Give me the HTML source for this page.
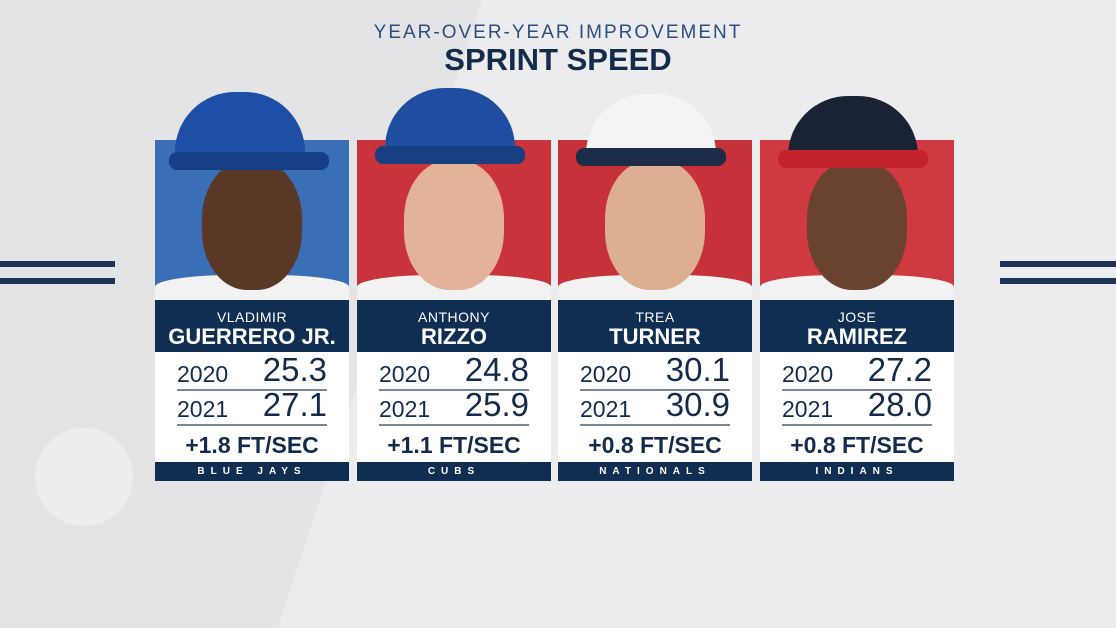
<!DOCTYPE html>
<html><head><meta charset="utf-8"><style>
*{margin:0;padding:0;box-sizing:border-box}
html,body{width:1116px;height:628px;overflow:hidden}
body{background:#e4e4e6;font-family:"Liberation Sans",sans-serif;position:relative}
.bg1{position:absolute;left:380px;top:0;width:900px;height:628px;background:#ececee;transform:skewX(-18deg)}
.circ{position:absolute;left:35px;top:428px;width:98px;height:98px;border-radius:50%;background:#ededef}
.ln{position:absolute;height:6px;background:#1b3356}
.t1{position:absolute;top:22px;left:0;width:1116px;text-align:center;color:#2a4f7e;font-size:19px;letter-spacing:2px}
.t2{position:absolute;top:42px;left:0;width:1116px;text-align:center;color:#142c4c;font-size:31px;font-weight:bold}
.card{position:absolute;top:140px;width:194px;height:341px}
.photo{position:absolute;top:0;left:0;width:194px;height:160px;overflow:hidden}
.name{position:absolute;top:160px;left:0;width:194px;height:52px;background:#0f2e51;color:#fff;text-align:center}
.fn{font-size:14px;padding-top:9px;letter-spacing:.5px}
.ln2{font-size:22px;font-weight:bold;line-height:24px}
.stats{position:absolute;top:212px;left:0;width:194px;height:110px;background:#fff;color:#142c4c}
.row{position:absolute;left:22px;width:150px;height:35px;border-bottom:2px solid #7a8796}
.yr{position:absolute;left:0;bottom:1px;font-size:23px}
.val{position:absolute;right:0;bottom:0;font-size:33px}
.imp{position:absolute;top:80px;width:194px;text-align:center;font-size:23px;font-weight:bold}
.team{position:absolute;top:322px;left:0;width:194px;height:19px;background:#0f2e51;color:#fff;text-align:center;font-size:10px;font-weight:bold;letter-spacing:6px;line-height:19px}
.head{position:absolute;left:47px;top:20px;width:100px;height:130px;border-radius:45%}
.shirt{position:absolute;left:0;top:135px;width:194px;height:30px;background:#f2f2f2;border-radius:40% 40% 0 0}
.cap{position:absolute;left:28px;width:130px;height:68px;border-radius:60px 60px 8px 8px}
.bill{position:absolute;left:18px;width:150px;height:18px;border-radius:8px}
</style></head><body>
<div class="bg1"></div><div class="circ"></div>
<div class="ln" style="left:0;top:261px;width:115px"></div>
<div class="ln" style="left:0;top:278px;width:115px"></div>
<div class="ln" style="left:1000px;top:261px;width:116px"></div>
<div class="ln" style="left:1000px;top:278px;width:116px"></div>
<div class="t1">YEAR-OVER-YEAR IMPROVEMENT</div>
<div class="t2">SPRINT SPEED</div>

<div class="card" style="left:155px">
 <div class="photo" style="background:#3b6fb5"><div class="shirt"></div><div class="head" style="background:#5a3826"></div></div>
 <div class="cap" style="top:-48px;left:20px;background:#1d4fa6"></div><div class="bill" style="top:12px;left:14px;width:160px;background:#183f86"></div>
 <div class="name"><div class="fn">VLADIMIR</div><div class="ln2">GUERRERO JR.</div></div>
 <div class="stats"><div class="row" style="top:4px"><span class="yr">2020</span><span class="val">25.3</span></div><div class="row" style="top:39px"><span class="yr">2021</span><span class="val">27.1</span></div><div class="imp">+1.8 FT/SEC</div></div>
 <div class="team">BLUE JAYS</div>
</div>

<div class="card" style="left:357px">
 <div class="photo" style="background:#c9343c"><div class="shirt"></div><div class="head" style="background:#e2b398"></div></div>
 <div class="cap" style="top:-52px;background:#1f4ea0"></div><div class="bill" style="top:6px;background:#173f82"></div>
 <div class="name"><div class="fn">ANTHONY</div><div class="ln2">RIZZO</div></div>
 <div class="stats"><div class="row" style="top:4px"><span class="yr">2020</span><span class="val">24.8</span></div><div class="row" style="top:39px"><span class="yr">2021</span><span class="val">25.9</span></div><div class="imp">+1.1 FT/SEC</div></div>
 <div class="team">CUBS</div>
</div>

<div class="card" style="left:558px">
 <div class="photo" style="background:#c6323a"><div class="shirt"></div><div class="head" style="background:#dcae92"></div></div>
 <div class="cap" style="top:-46px;background:#f4f4f4"></div><div class="bill" style="top:8px;background:#1c2b48"></div>
 <div class="name"><div class="fn">TREA</div><div class="ln2">TURNER</div></div>
 <div class="stats"><div class="row" style="top:4px"><span class="yr">2020</span><span class="val">30.1</span></div><div class="row" style="top:39px"><span class="yr">2021</span><span class="val">30.9</span></div><div class="imp">+0.8 FT/SEC</div></div>
 <div class="team">NATIONALS</div>
</div>

<div class="card" style="left:760px">
 <div class="photo" style="background:#cf3a40"><div class="shirt"></div><div class="head" style="background:#6a4230"></div></div>
 <div class="cap" style="top:-44px;background:#1a2236"></div><div class="bill" style="top:10px;background:#c3242c"></div>
 <div class="name"><div class="fn">JOSE</div><div class="ln2">RAMIREZ</div></div>
 <div class="stats"><div class="row" style="top:4px"><span class="yr">2020</span><span class="val">27.2</span></div><div class="row" style="top:39px"><span class="yr">2021</span><span class="val">28.0</span></div><div class="imp">+0.8 FT/SEC</div></div>
 <div class="team">INDIANS</div>
</div>
</body></html>
